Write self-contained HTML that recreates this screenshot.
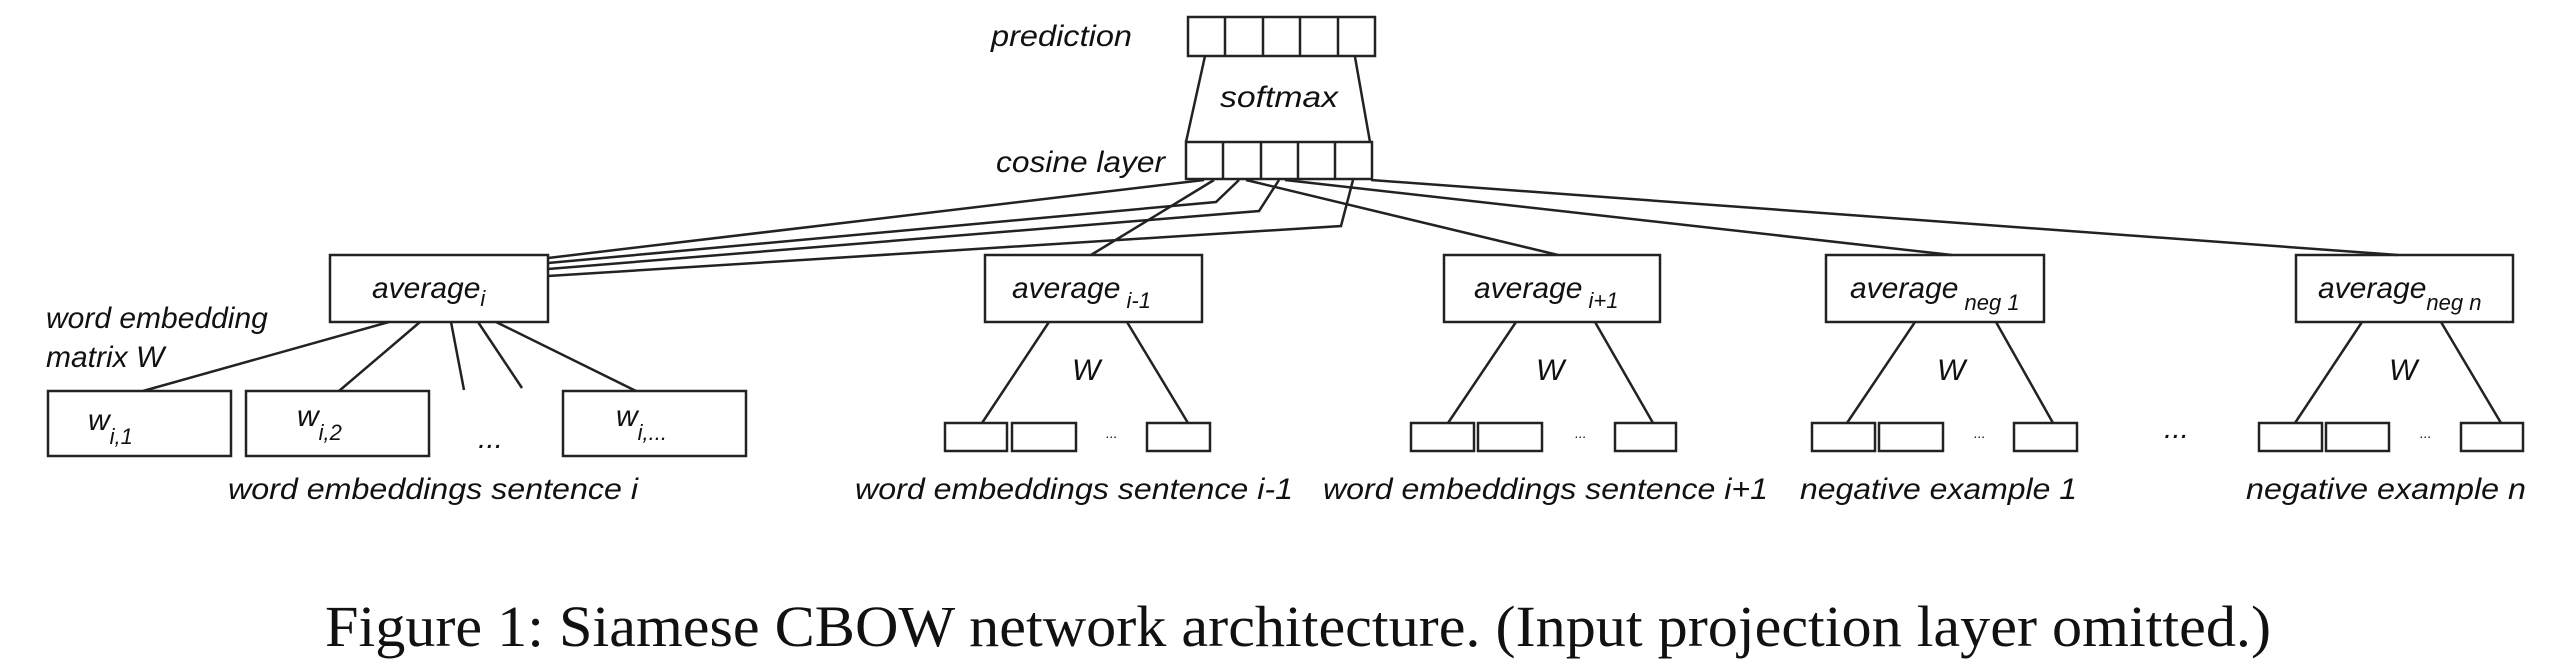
<!DOCTYPE html>
<html><head><meta charset="utf-8"><style>
html,body{margin:0;padding:0;background:#fff;}
svg{display:block;}
text{font-family:"Liberation Sans",sans-serif;font-style:italic;fill:#111;}
.c{font-family:"Liberation Serif",serif;font-style:normal;}
</style></head><body>
<svg width="2566" height="664" viewBox="0 0 2566 664" xmlns="http://www.w3.org/2000/svg">
<g fill="none" stroke="#222" stroke-width="2.5">
<!-- prediction -->
<rect x="1188" y="17" width="187" height="39"/>
<line x1="1225" y1="17" x2="1225" y2="56"/><line x1="1263" y1="17" x2="1263" y2="56"/><line x1="1300" y1="17" x2="1300" y2="56"/><line x1="1338" y1="17" x2="1338" y2="56"/>
<!-- cosine -->
<rect x="1186" y="142" width="186" height="37"/>
<line x1="1223" y1="142" x2="1223" y2="179"/><line x1="1261" y1="142" x2="1261" y2="179"/><line x1="1298" y1="142" x2="1298" y2="179"/><line x1="1335" y1="142" x2="1335" y2="179"/>
<line x1="1205" y1="56" x2="1186" y2="142"/><line x1="1355" y1="57" x2="1370" y2="142"/>
<!-- connections -->
<polyline points="1204,180 548,258"/>
<polyline points="1239,180 1216,202 548,263"/>
<polyline points="1279,180 1259,211 548,269"/>
<polyline points="1353,180 1341,226 548,276"/>
<line x1="1214" y1="180" x2="1091" y2="255"/>
<line x1="1246" y1="180" x2="1558" y2="255"/>
<line x1="1285" y1="180" x2="1952" y2="255"/>
<line x1="1371" y1="180" x2="2398" y2="255"/>
<!-- average boxes -->
<rect x="330" y="255" width="218" height="67"/>
<rect x="985" y="255" width="217" height="67"/>
<rect x="1444" y="255" width="216" height="67"/>
<rect x="1826" y="255" width="218" height="67"/>
<rect x="2296" y="255" width="217" height="67"/>
<!-- avg i children -->
<line x1="389" y1="322" x2="143" y2="391"/>
<line x1="420" y1="322" x2="339" y2="391"/>
<line x1="451" y1="322" x2="464" y2="390"/>
<line x1="478" y1="322" x2="522" y2="388"/>
<line x1="496" y1="322" x2="636" y2="391"/>
<rect x="48" y="391" width="183" height="65"/>
<rect x="246" y="391" width="183" height="65"/>
<rect x="563" y="391" width="183" height="65"/>
<!-- i-1 -->
<line x1="1049" y1="322" x2="982" y2="423"/><line x1="1127" y1="322" x2="1188" y2="423"/>
<rect x="945" y="423" width="62" height="28"/><rect x="1012" y="423" width="64" height="28"/><rect x="1147" y="423" width="63" height="28"/>
<!-- i+1 -->
<line x1="1516" y1="322" x2="1448" y2="423"/><line x1="1595" y1="322" x2="1653" y2="423"/>
<rect x="1411" y="423" width="63" height="28"/><rect x="1478" y="423" width="64" height="28"/><rect x="1615" y="423" width="61" height="28"/>
<!-- neg1 -->
<line x1="1915" y1="322" x2="1847" y2="423"/><line x1="1996" y1="322" x2="2053" y2="423"/>
<rect x="1812" y="423" width="63" height="28"/><rect x="1879" y="423" width="64" height="28"/><rect x="2014" y="423" width="63" height="28"/>
<!-- negn -->
<line x1="2362" y1="322" x2="2295" y2="423"/><line x1="2441" y1="322" x2="2501" y2="423"/>
<rect x="2259" y="423" width="63" height="28"/><rect x="2326" y="423" width="63" height="28"/><rect x="2461" y="423" width="62" height="28"/>
</g>
<g font-size="30">
<text x="991" y="46" textLength="141" lengthAdjust="spacingAndGlyphs">prediction</text>
<text x="1220" y="107" textLength="118" lengthAdjust="spacingAndGlyphs">softmax</text>
<text x="996" y="172" textLength="169" lengthAdjust="spacingAndGlyphs">cosine layer</text>
<text x="372" y="298">average<tspan font-size="22" dy="8">i</tspan></text>
<text x="1012" y="298">average<tspan font-size="22" dy="10"> i-1</tspan></text>
<text x="1474" y="298">average<tspan font-size="22" dy="10"> i+1</tspan></text>
<text x="1850" y="298">average<tspan font-size="22" dy="12"> neg 1</tspan></text>
<text x="2318" y="298">average<tspan font-size="22" dy="12">neg n</tspan></text>
<text x="46" y="328">word embedding</text>
<text x="46" y="367">matrix W</text>
<text x="88" y="430">w<tspan font-size="22" dy="14">i,1</tspan></text>
<text x="297" y="426">w<tspan font-size="22" dy="14">i,2</tspan></text>
<text x="616" y="426">w<tspan font-size="22" dy="14">i,...</tspan></text>
<text x="478" y="448">...</text>
<text x="2164" y="438">...</text>
<text x="1072" y="380">W</text><text x="1536" y="380">W</text><text x="1937" y="380">W</text><text x="2389" y="380">W</text>
<text x="228" y="499" textLength="410" lengthAdjust="spacingAndGlyphs">word embeddings sentence i</text>
<text x="855" y="499" textLength="438" lengthAdjust="spacingAndGlyphs">word embeddings sentence i-1</text>
<text x="1323" y="499" textLength="445" lengthAdjust="spacingAndGlyphs">word embeddings sentence i+1</text>
<text x="1800" y="499" textLength="277" lengthAdjust="spacingAndGlyphs">negative example 1</text>
<text x="2246" y="499" textLength="280" lengthAdjust="spacingAndGlyphs">negative example n</text>
</g>
<g font-size="14">
<text x="1106" y="438">...</text><text x="1575" y="438">...</text><text x="1974" y="438">...</text><text x="2420" y="438">...</text>
</g>
<text class="c" x="325" y="646" font-size="58" textLength="1946" lengthAdjust="spacingAndGlyphs">Figure 1: Siamese CBOW network architecture. (Input projection layer omitted.)</text>
</svg>
</body></html>
